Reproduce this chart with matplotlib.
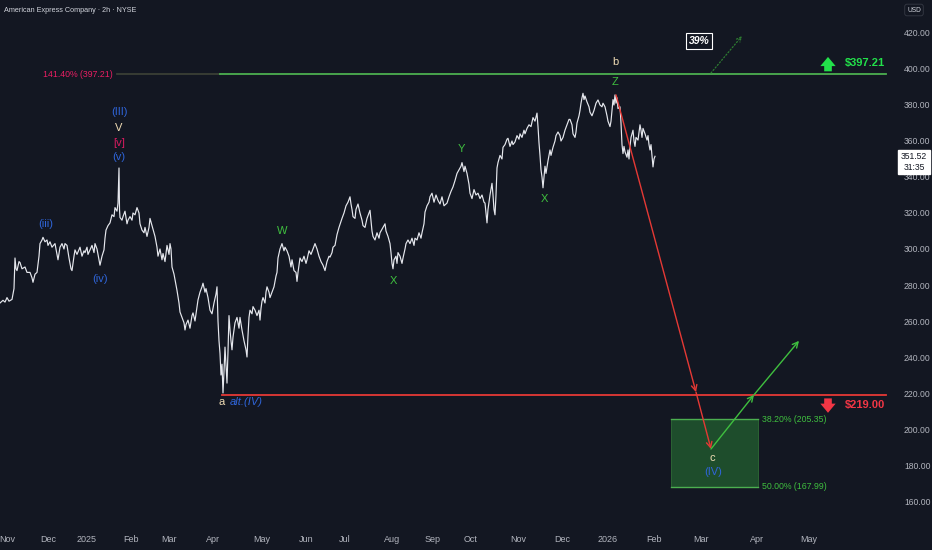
import matplotlib.pyplot as plt
from matplotlib.patches import Rectangle

plt.rcParams['font.family'] = ['Liberation Sans', 'DejaVu Sans']

# colours
bg = "#131722"
txt = "#b2b5be"
wheat = "#f0dcb4"
blue = "#2f65d9"
green = "#3fbf3f"
bright_green = "#22e04a"
red = "#e53935"
pink = "#e91e63"

# x = position on the chart's time scale (trading bars, compressed)
month_pos = [7, 48, 87, 131, 169, 213, 262, 306, 345, 392, 433, 471, 518, 562, 608, 654, 701, 757, 809]
month_lbl = ["Nov", "Dec", "2025", "Feb", "Mar", "Apr", "May", "Jun", "Jul", "Aug", "Sep",
             "Oct", "Nov", "Dec", "2026", "Feb", "Mar", "Apr", "May"]

price_ticks = [160, 180, 200, 220, 240, 260, 280, 300, 320, 340, 360, 380, 400, 420]

# AXP 2h close
bar_t = [0, 3, 5, 7, 9, 12, 14, 15, 16, 17, 19, 20, 22, 25, 27, 30, 32, 33, 35, 37, 39, 40, 42, 43, 45,
         47, 48, 50, 52, 55, 57, 58, 60, 62, 64, 65, 67, 69, 71, 72, 74, 75, 77, 80, 82, 84, 85, 87, 88,
         90, 92, 94, 95, 97, 99, 100, 102, 104, 105, 106, 108, 110, 112, 114, 115, 117, 118, 119, 119.5,
         120, 122, 123, 125, 127, 128, 130, 132, 133, 135, 137, 139, 140, 142, 144, 145, 147, 149, 150,
         152, 154, 155, 157, 158, 160, 162, 163, 165, 167, 169, 170, 171, 172, 174, 175, 177, 179, 180,
         182, 184, 185, 186, 188, 190, 192, 193, 195, 197, 198, 200, 202, 203, 205, 206, 208, 210, 212,
         214, 216, 217, 218, 219, 220, 221, 222, 223, 224, 225, 226, 227, 228, 229, 230, 231, 232, 233,
         235, 237, 239, 240, 242, 244, 246, 247, 248, 249, 250, 252, 253, 255, 257, 259, 260, 261, 262,
         263, 265, 266, 267, 269, 270, 272, 274, 276, 277, 278, 280, 282, 284, 285, 287, 289, 291, 292,
         294, 296, 297, 298,
         300, 302, 304, 306, 307, 309, 311, 313, 315, 317, 319, 321, 323, 325, 327, 329, 330, 332, 333,
         335, 337, 339, 342, 344, 346, 348, 350, 351, 352, 353, 355, 356, 358, 360, 362, 363, 365, 367,
         369, 370, 371, 372, 373, 375, 377, 379, 380, 382, 384, 385, 386, 388, 390, 391, 392, 393, 394,
         396, 397, 398, 400, 402, 403, 405, 406, 408, 410, 412, 414, 415, 417, 419, 421, 422, 424, 425,
         427, 429, 430, 432, 434, 436, 438, 440, 442, 444, 447, 449, 451, 453, 455, 457, 459, 461, 462,
         464, 465, 467, 469, 470, 472, 474, 476, 478, 480, 482, 484, 485, 486, 487, 488, 490, 492, 493,
         494, 495, 496, 497, 498, 500, 502, 503, 505, 507, 508, 510, 512, 513, 515, 517, 519, 520, 522,
         524, 525, 527, 529, 531, 533, 535, 537, 538, 539, 540, 541, 542, 543, 544, 545, 546, 548, 550,
         551, 553, 555, 556, 558, 560, 561, 563, 565, 567, 569, 570, 572, 573, 575, 576, 577, 579, 580,
         581, 582, 583, 584, 585, 587, 589, 590, 592, 594, 596, 598, 600, 602, 603, 605, 607, 608, 610,
         611, 612, 613, 614, 615, 616, 617, 618, 620, 621, 622, 623, 624, 625, 627, 628, 629, 630, 631,
         633, 634, 635, 636, 638, 639, 640, 641, 642, 643, 645, 647, 648, 649, 650, 651, 652, 653, 654,
         655]
close = [270, 271.5, 270.5, 273, 271, 272, 278, 295, 289, 288, 293, 292.5, 289, 290, 287, 287, 284,
         281.5, 286, 287, 296, 303, 305, 306.5, 304, 305, 302, 304, 301, 303, 297, 294, 301, 303, 300,
         303, 302, 295, 289, 288, 296, 299.5, 297, 301, 296, 299, 298, 301, 297, 299.5, 302, 298, 303,
         300, 294, 291, 296, 299.5, 306, 310.5, 313, 314.5, 319, 318, 323, 321, 325.5, 345, 322, 317.5,
         316, 318, 321, 314, 316, 318, 316, 320, 319, 323, 320, 314, 310.5, 309, 312, 307, 312, 317,
         313, 309, 307, 301, 296, 300, 294, 297.5, 293, 302, 297, 303, 300, 290, 286, 283, 277, 270,
         265, 262, 259, 255, 258, 260.5, 256, 263, 264.5, 260, 268, 271.7, 276, 279, 281, 276, 278,
         273, 266, 264, 270, 275, 279, 260, 249, 242, 230, 236, 220, 232, 245.5, 236, 225.5, 243, 263,
         255, 249, 244, 251, 259, 262, 256, 262, 255, 249, 244, 240, 252, 262, 266, 264, 268, 266, 263,
         266, 260.5, 267, 271, 273, 270, 276, 279, 276, 273, 276, 279, 285, 287, 295, 300, 303, 299,
         301, 299, 296, 290, 294, 288, 287, 282, 287,
         295, 293, 296, 292, 294, 299, 297, 300, 303, 300, 296, 293, 291, 288, 293, 296, 295.5, 298,
         301, 302, 308, 312, 317, 320, 324, 326, 329, 325, 322, 318, 317, 322, 325, 320, 316, 313,
         312, 317, 320, 321.5, 316, 310, 307, 305, 309, 306, 309, 311, 313, 314, 310, 307, 303, 298,
         292, 289, 294, 296, 292, 298, 296, 292, 295, 300, 303, 305, 303, 306, 302, 306, 305, 309, 306,
         309, 314, 320.5, 324, 326, 329, 331, 326, 330, 327, 325, 329, 324, 325.5, 329, 332, 334.5, 338,
         342, 344, 346, 348, 343, 346, 342, 336, 331, 328, 333, 330, 331, 328, 330, 326, 325.5, 320,
         314.5, 322, 330, 336.5, 330, 322, 319, 330, 345, 348, 352, 350, 356.5, 358, 361, 361.5, 357,
         360, 358, 359.5, 363, 361, 364, 362, 366, 364, 367, 369, 368, 373, 371, 375.5, 368, 359, 352,
         344, 340, 334, 340, 346, 342, 349, 355, 352, 356.5, 360, 363, 365, 363, 360, 362, 366, 369,
         372, 372, 369, 364, 362, 365, 370, 374, 377, 381, 384, 386.5, 383, 385, 381.7, 379, 376, 374,
         377, 381, 382.8, 380, 379, 381, 379, 374, 371, 368, 371, 377, 383, 380, 385.6, 381, 384,
         378, 379, 370, 358, 353, 357, 354, 351, 355, 350, 357, 362, 366, 360, 357, 362, 360.5, 365,
         369, 366, 362, 367, 364, 360.5, 363, 358, 355, 358, 352, 345.6, 350, 351.5]

last_price = 351.52
countdown = "31:35"

# levels and projection
resist = 397.21
support = 219.00
fib_382 = 205.35
fib_500 = 167.99
down_t = [616, 696, 711]
down_p = [385.6, 220.5, 188.9]
up_t = [711, 754, 799]
up_p = [188.9, 219.0, 249.0]
alt_t = [711, 742]
alt_p = [397.8, 418.3]

fig = plt.figure(figsize=(9.32, 5.5), dpi=100, facecolor=bg)
ax = fig.add_axes([0, 25 / 550, 897 / 932, 525 / 550], facecolor=bg)
ax.set_xlim(0, 897)
ax.set_ylim(146.67, 438.33)
for s in ax.spines.values():
    s.set_visible(False)

ax.plot(bar_t, close, color="#e6e8ee", lw=0.85, zorder=3)

# horizontal levels
ax.plot([117, 220], [resist, resist], color="#3a3f35", lw=1.3, zorder=2)
ax.plot([220, 886], [resist, resist], color="#4caf50", lw=1.3, zorder=2)
ax.plot([222, 886], [support, support], color=red, lw=1.3, zorder=2)
ax.text(113, resist, "141.40% (397.21)", color=pink, fontsize=6.3, ha="right", va="center")

# target box
ax.add_patch(Rectangle((671, fib_500), 87, fib_382 - fib_500, facecolor="#1e4d2c",
                       edgecolor="#2e6b36", lw=0.6, zorder=1))
ax.plot([671, 758], [fib_382, fib_382], color="#4caf50", lw=1.0, zorder=2)
ax.plot([671, 758], [fib_500, fib_500], color="#4caf50", lw=1.0, zorder=2)
ax.text(762, fib_382, "38.20% (205.35)", color=green, fontsize=6.3, ha="left", va="center")
ax.text(762, fib_500, "50.00% (167.99)", color=green, fontsize=6.3, ha="left", va="center")

# projected path
for i in range(len(down_t) - 1):
    ax.annotate("", xy=(down_t[i + 1], down_p[i + 1]), xytext=(down_t[i], down_p[i]),
                arrowprops=dict(arrowstyle="->", color=red, lw=1.0, shrinkA=0, shrinkB=0,
                                mutation_scale=10), zorder=4)
for i in range(len(up_t) - 1):
    ax.annotate("", xy=(up_t[i + 1], up_p[i + 1]), xytext=(up_t[i], up_p[i]),
                arrowprops=dict(arrowstyle="->", color=green, lw=1.0, shrinkA=0, shrinkB=0,
                                mutation_scale=10), zorder=4)
ax.annotate("", xy=(alt_t[1], alt_p[1]), xytext=(alt_t[0], alt_p[0]),
            arrowprops=dict(arrowstyle="->", color="#2e7d32", lw=0.9, ls=":", shrinkA=0,
                            shrinkB=0, mutation_scale=8))
ax.text(699, 415.6, "39%", color="white", fontsize=7.5, fontweight="bold", style="italic",
        ha="center", va="center",
        bbox=dict(boxstyle="square,pad=0.25", facecolor=bg, edgecolor="white", lw=0.8))

# level tags
ax.annotate("", xy=(828, resist + 9.5), xytext=(828, resist + 1.5),
            arrowprops=dict(arrowstyle="simple,head_width=1.0,head_length=0.6,tail_width=0.5",
                            color=bright_green, lw=0, shrinkA=0, shrinkB=0, mutation_scale=11))
ax.text(845, resist + 6, "$397.21", color=bright_green, fontsize=8, fontweight="bold",
        ha="left", va="center")
ax.annotate("", xy=(828, support - 10), xytext=(828, support - 2),
            arrowprops=dict(arrowstyle="simple,head_width=1.0,head_length=0.6,tail_width=0.5",
                            color="#f23645", lw=0, shrinkA=0, shrinkB=0, mutation_scale=11))
ax.text(845, support - 5.7, "$219.00", color="#f23645", fontsize=8, fontweight="bold",
        ha="left", va="center")

# wave labels
labels = [
    (119, 376.1, "(III)", blue), (119, 367.2, "V", wheat), (119, 358.9, "[v]", "#d81b60"),
    (119, 351.1, "(v)", blue), (46, 313.9, "(iii)", blue), (100, 283.3, "(iv)", blue),
    (282, 310.0, "W", green), (393, 282.2, "X", green), (461, 355.6, "Y", green),
    (544, 327.8, "X", green), (615, 392.8, "Z", green), (615, 403.9, "b", wheat),
    (222, 215.0, "a", wheat), (712, 183.9, "c", wheat), (713, 176.1, "(IV)", blue),
]
for x, y, s, c in labels:
    ax.text(x, y, s, color=c, fontsize=8, ha="center", va="center", zorder=5)
ax.text(230, 215.0, "alt.(IV)", color=blue, fontsize=8, style="italic", ha="left", va="center")

# axes
ax.set_xticks(month_pos)
ax.set_xticklabels(month_lbl)
ax.yaxis.tick_right()
ax.set_yticks(price_ticks)
ax.set_yticklabels([f"{p:.2f}" for p in price_ticks])
ax.tick_params(axis="x", length=0, pad=7, labelsize=6.5, labelcolor=txt)
ax.tick_params(axis="y", length=0, pad=5, labelsize=6.2, labelcolor=txt)

fig.text(4 / 932, 1 - 10 / 550, "American Express Company · 2h · NYSE", color="#d1d4dc",
         fontsize=5.2, ha="left", va="center")
fig.text(914 / 932, 1 - 10 / 550, "USD", color="#d1d4dc", fontsize=4.8, ha="center", va="center",
         bbox=dict(boxstyle="round,pad=0.35", facecolor=bg, edgecolor="#363a45", lw=0.6))
fig.text(914 / 932, 1 - 162 / 550, f"{last_price:.2f}\n{countdown}", color="#131722", fontsize=6.2,
         ha="center", va="center", linespacing=1.25,
         bbox=dict(boxstyle="square,pad=0.3", facecolor="white", edgecolor="white"))

fig.savefig("out.png", dpi=100, facecolor=bg)
